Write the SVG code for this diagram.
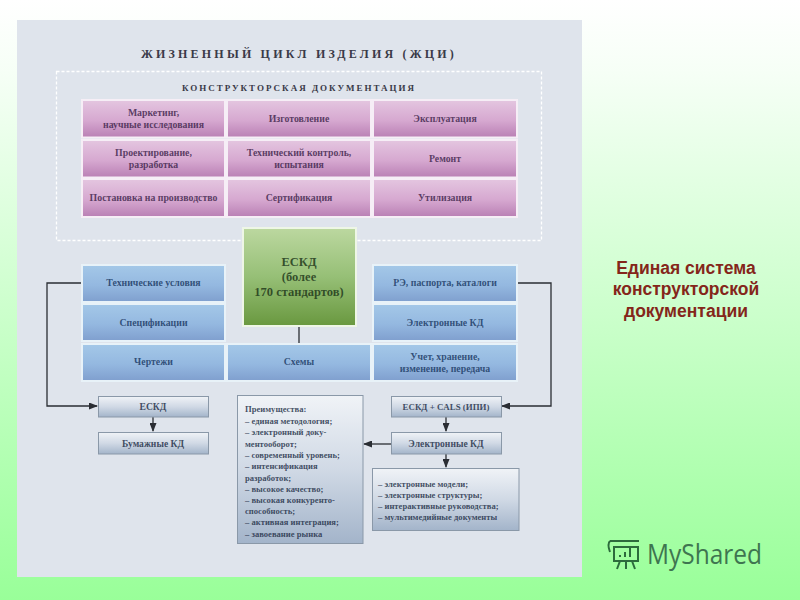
<svg xmlns="http://www.w3.org/2000/svg" width="800" height="600" viewBox="0 0 800 600">
<style>
text{font-family:"Liberation Serif","Times New Roman",serif;text-anchor:middle}
.p{fill:url(#pk);stroke:#f6eef6;stroke-width:2}
.b{fill:url(#bl);stroke:#e8f2f8;stroke-width:2}
.g{fill:url(#gr);stroke:#eef6e6;stroke-width:2}
.s{fill:url(#st);stroke:#8a98a8;stroke-width:1}
.pt{font-size:9.8px;fill:#43284f;font-weight:bold;fill-opacity:.85}
.bt{font-size:9.8px;fill:#203c66;font-weight:bold;fill-opacity:.85}
.st{font-size:9.6px;fill:#26324a;font-weight:bold;fill-opacity:.85}
.lt{font-size:8.6px;fill:#26324a;font-weight:bold;fill-opacity:.85;text-anchor:start}
.gt{font-size:12.5px;font-weight:bold;fill:#233a1c;fill-opacity:.85}
.c{fill:none;stroke:#2a2d33;stroke-width:1.3}
.rt{font-family:"Liberation Sans",Arial,sans-serif;font-size:17.5px;font-weight:bold;fill:#84261a}
</style>
<defs>
<linearGradient id="bg" x1="0" y1="0" x2="0" y2="1"><stop offset="0" stop-color="#ffffff"/><stop offset=".12" stop-color="#f6fff6"/><stop offset="1" stop-color="#99ff99"/></linearGradient>
<linearGradient id="pk" x1="0" y1="0" x2="0" y2="1"><stop offset="0" stop-color="#e4c6e0"/><stop offset=".55" stop-color="#d6a8d0"/><stop offset="1" stop-color="#b97fb4"/></linearGradient>
<linearGradient id="bl" x1="0" y1="0" x2="0" y2="1"><stop offset="0" stop-color="#a4c8e8"/><stop offset=".55" stop-color="#94b8e0"/><stop offset="1" stop-color="#7f9fce"/></linearGradient>
<linearGradient id="gr" x1="0" y1="0" x2="0" y2="1"><stop offset="0" stop-color="#bcd8a0"/><stop offset=".5" stop-color="#96bf76"/><stop offset="1" stop-color="#69983f"/></linearGradient>
<linearGradient id="st" x1="0" y1="0" x2="0" y2="1"><stop offset="0" stop-color="#f0f3f7"/><stop offset=".5" stop-color="#d0d9e5"/><stop offset="1" stop-color="#a3b4ca"/></linearGradient>
<marker id="a" markerWidth="9" markerHeight="7" refX="8" refY="3.5" orient="auto" markerUnits="userSpaceOnUse"><path d="M0 0L9 3.5L0 7Z" fill="#2a2d33"/></marker>
</defs>
<rect width="800" height="600" fill="url(#bg)"/>
<rect x="17" y="20" width="565" height="557" fill="#dfe4ec"/>
<g id="title">
<text x="299" y="58" font-size="12" font-weight="bold" letter-spacing="3.2" fill="#3a3a48">ЖИЗНЕННЫЙ ЦИКЛ ИЗДЕЛИЯ (ЖЦИ)</text>
<text x="299" y="91" font-size="9" font-weight="bold" letter-spacing="2" fill="#3a3a48">КОНСТРУКТОРСКАЯ ДОКУМЕНТАЦИЯ</text>
</g>
<rect id="frame" x="56.500" y="71.500" width="485" height="169" fill="none" stroke="#fff" stroke-width="1.300" stroke-dasharray="3 2"/>
<g id="connectors">
<path class="c" d="M82 283H47V406H97" marker-end="url(#a)"/>
<path class="c" d="M517 283H551V406H502" marker-end="url(#a)"/>
<path class="c" d="M299 326V344"/>
<path class="c" d="M153 417V431" marker-end="url(#a)"/>
<path class="c" d="M446 417V431" marker-end="url(#a)"/>
<path class="c" d="M446 454V467" marker-end="url(#a)"/>
<path class="c" d="M391 444H364" marker-end="url(#a)"/>
</g>
<g id="n1"><rect class="p" x="82" y="100" width="143" height="37.500"/><text class="pt" x="153.500" y="116">Маркетинг,</text><text class="pt" x="153.500" y="128">научные исследования</text></g>
<g id="n2"><rect class="p" x="227" y="100" width="144" height="37.500"/><text class="pt" x="299" y="122">Изготовление</text></g>
<g id="n3"><rect class="p" x="373" y="100" width="144" height="37.500"/><text class="pt" x="445" y="122">Эксплуатация</text></g>
<g id="n4"><rect class="p" x="82" y="140" width="143" height="37.500"/><text class="pt" x="153.500" y="156">Проектирование,</text><text class="pt" x="153.500" y="168">разработка</text></g>
<g id="n5"><rect class="p" x="227" y="140" width="144" height="37.500"/><text class="pt" x="299" y="156">Технический контроль,</text><text class="pt" x="299" y="168">испытания</text></g>
<g id="n6"><rect class="p" x="373" y="140" width="144" height="37.500"/><text class="pt" x="445" y="162">Ремонт</text></g>
<g id="n7"><rect class="p" x="82" y="179" width="143" height="38"/><text class="pt" x="153.500" y="201">Постановка на производство</text></g>
<g id="n8"><rect class="p" x="227" y="179" width="144" height="38"/><text class="pt" x="299" y="201">Сертификация</text></g>
<g id="n9"><rect class="p" x="373" y="179" width="144" height="38"/><text class="pt" x="445" y="201">Утилизация</text></g>
<g id="eskd-main"><rect class="g" x="243" y="228" width="113" height="98"/><text class="gt" x="299" y="266">ЕСКД</text><text class="gt" x="299" y="281">(более</text><text class="gt" x="299" y="296">170 стандартов)</text></g>
<g id="b1"><rect class="b" x="82" y="265" width="143" height="37"/><text class="bt" x="153.500" y="286">Технические условия</text></g>
<g id="b2"><rect class="b" x="82" y="304" width="143" height="37"/><text class="bt" x="153.500" y="326">Спецификации</text></g>
<g id="b3"><rect class="b" x="82" y="344" width="143" height="37"/><text class="bt" x="153.500" y="365">Чертежи</text></g>
<g id="b4"><rect class="b" x="227" y="344" width="144" height="37"/><text class="bt" x="299" y="365">Схемы</text></g>
<g id="b5"><rect class="b" x="373" y="265" width="144" height="37"/><text class="bt" x="445" y="286">РЭ, паспорта, каталоги</text></g>
<g id="b6"><rect class="b" x="373" y="304" width="144" height="37"/><text class="bt" x="445" y="326">Электронные КД</text></g>
<g id="b7"><rect class="b" x="373" y="344" width="144" height="37"/><text class="bt" x="445" y="360">Учет, хранение,</text><text class="bt" x="445" y="372">изменение, передача</text></g>
<g id="s1"><rect class="s" x="98.500" y="396.500" width="110" height="20.500"/><text class="st" x="153" y="410">ЕСКД</text></g>
<g id="s2"><rect class="s" x="98.500" y="432.500" width="110" height="21.500"/><text class="st" x="153" y="447">Бумажные КД</text></g>
<g id="s3"><rect class="s" x="391.500" y="396.500" width="110" height="20.500"/><text class="st" x="446" y="410" style="font-size:8.9px">ЕСКД + CALS (ИПИ)</text></g>
<g id="s4"><rect class="s" x="391.500" y="432.500" width="110" height="21.500"/><text class="st" x="446" y="447">Электронные КД</text></g>
<g id="adv"><rect class="s" x="237.500" y="395.500" width="125.500" height="148"/>
<text class="lt" x="245" y="412">Преимущества:</text>
<text class="lt" x="245" y="424">– единая методология;</text>
<text class="lt" x="245" y="435">– электронный доку-</text>
<text class="lt" x="245" y="447">ментооборот;</text>
<text class="lt" x="245" y="458">– современный уровень;</text>
<text class="lt" x="245" y="469">– интенсификация</text>
<text class="lt" x="245" y="481">разработок;</text>
<text class="lt" x="245" y="492">– высокое качество;</text>
<text class="lt" x="245" y="503">– высокая конкуренто-</text>
<text class="lt" x="245" y="514">способность;</text>
<text class="lt" x="245" y="525">– активная интеграция;</text>
<text class="lt" x="245" y="537">– завоевание рынка</text></g>
<g id="list"><rect class="s" x="372.500" y="468.500" width="146.500" height="62"/>
<text class="lt" x="378" y="487">– электронные модели;</text>
<text class="lt" x="378" y="498">– электронные структуры;</text>
<text class="lt" x="378" y="509">– интерактивные руководства;</text>
<text class="lt" x="378" y="520">– мультимедийные документы</text></g>
<g id="caption"><text class="rt" x="686" y="274">Единая система</text><text class="rt" x="686" y="295">конструкторской</text><text class="rt" x="686" y="317">документации</text></g>
<g id="logo"><path d="M610 541H639M614 547H638V561H614ZM610 541Q607 544 610 552M620 561L617 569M626 561V569M632 561L635 569M620 557V555M625 557V552M630 557V548" fill="none" stroke="#2c6b3c" stroke-width="2"/>
<text x="647" y="564" font-size="27" textLength="115" lengthAdjust="spacingAndGlyphs" style="font-family:'Open Sans','Noto Sans',sans-serif;text-anchor:start" fill="#3e7550">MyShared</text></g>
</svg>
